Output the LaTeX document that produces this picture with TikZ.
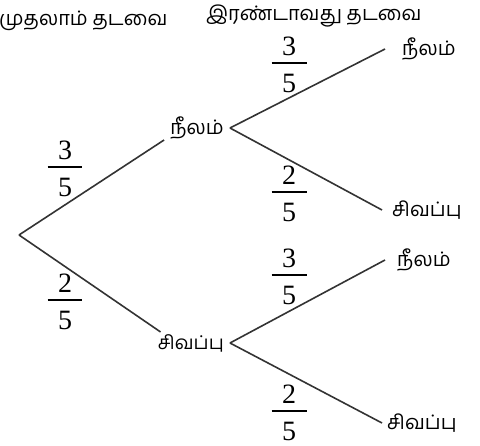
\documentclass[tikz,border=0pt]{standalone}
\usepackage{fontspec}
\usepackage{tikz}
\setmainfont{Liberation Serif}
\newfontfamily\tamil[Script=Tamil]{Hind Madurai}

\newcommand{\frc}[2]{{\fontsize{28}{28}\selectfont
  \setlength{\arrayrulewidth}{1.5pt}\renewcommand{\arraystretch}{0}%
  \begin{tabular}{@{}c@{}}\rule[-7pt]{0pt}{22pt}\makebox[35pt]{#1}\\\hline
  \rule{0pt}{29pt}#2\end{tabular}}}

\tikzset{
  head/.style={font={\tamil\fontsize{20}{24}\selectfont}, inner sep=0pt},
  lbl/.style={font={\tamil\fontsize{20}{24}\selectfont}, inner sep=2pt},
  mid/.style={lbl, inner xsep=6pt, anchor=east},
  leaf/.style={lbl, inner xsep=10pt, anchor=west},
  branch/.style={line width=1.6pt, draw=black!80},
  prob/.style={inner sep=0pt}
}

\begin{document}
\begin{tikzpicture}[x=1pt,y=-1pt]
        \useasboundingbox (0,0) rectangle (480,446);

        % Headings
        \node[head, anchor=west] (h1) at (-1,21) {முதலாம் தடவை};
        \node[head, anchor=west] (h2) at (206,16) {இரண்டாவது தடவை};

        % First draw
        \coordinate (root) at (19,235);
        \node[mid] (b1) at (230,128) {நீலம்};
        \node[mid, font={\tamil\fontsize{19}{24}\selectfont}] (b2) at (230,343) {சிவப்பு};

        % Second draw
        \node[leaf, inner xsep=17pt] (c1) at (385,49) {நீலம்};
        \node[leaf] (c2) at (382,210) {சிவப்பு};
        \node[leaf, inner xsep=12pt] (c3) at (385,260) {நீலம்};
        \node[leaf, inner xsep=5pt] (c4) at (382,423) {சிவப்பு};

        % Branches
        \draw[branch] (root) -- (b1.200);
        \draw[branch] (root) -- (b2.160);
        \draw[branch] (b1.east) -- (c1.west);
        \draw[branch] (b1.east) -- (c2.west);
        \draw[branch] (b2.east) -- (c3.west);
        \draw[branch] (b2.east) -- (c4.west);

        % Probabilities
        \node[prob] (p1) at (65,169) {\frc{3}{5}};
        \node[prob] (p2) at (65,302) {\frc{2}{5}};
        \node[prob] (p11) at (289,65) {\frc{3}{5}};
        \node[prob] (p12) at (289,194) {\frc{2}{5}};
        \node[prob] (p21) at (289,277) {\frc{3}{5}};
        \node[prob] (p22) at (289,413) {\frc{2}{5}};
\end{tikzpicture}
\end{document}
